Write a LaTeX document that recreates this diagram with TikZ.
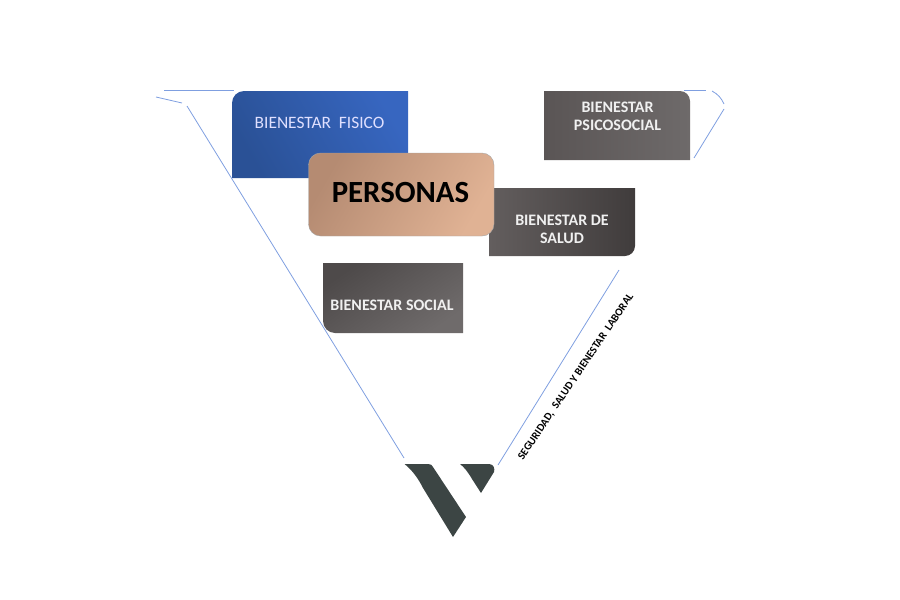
\documentclass[tikz,border=0pt]{standalone}
\usepackage{fontspec}
\setmainfont{Carlito}
\definecolor{bl}{HTML}{7F9FE0}
\definecolor{blA}{HTML}{2A5196}
\definecolor{blB}{HTML}{3766C0}
\definecolor{grA}{HTML}{4E4A4A}
\definecolor{grB}{HTML}{6F6B6B}
\definecolor{psA}{HTML}{5A5555}
\definecolor{psB}{HTML}{6E6A6A}
\definecolor{saA}{HTML}{635E5E}
\definecolor{saB}{HTML}{403C3C}
\definecolor{taA}{HTML}{B58B72}
\definecolor{taB}{HTML}{E0B294}
\definecolor{logo}{HTML}{3C4544}
\tikzset{
 guide/.style={draw=bl,line width=0.8pt},
 lbl/.style={text=white!94!black,font=\bfseries\fontsize{16}{17.5}\selectfont,align=center,inner sep=0pt},
 blueshade/.style={left color=blA,right color=blB,shading angle=120},
 psishade/.style={left color=psA,right color=psB,shading angle=90},
 salshade/.style={left color=saA,right color=saB,shading angle=90},
 socshade/.style={left color=grA,right color=grB,shading angle=35},
 tanshade/.style={left color=taA,right color=taB,shading angle=60},
}
\begin{document}
\begin{tikzpicture}[x=1pt,y=-1pt]
\useasboundingbox (0,0) rectangle (900,600);
% guide lines
\coordinate (t1) at (164,90.5); \coordinate (t2) at (234,90.5);
\coordinate (t3) at (156,97); \coordinate (t4) at (182,103);
\coordinate (t5) at (187,106); \coordinate (t6) at (404,458);
\coordinate (r1) at (498,465); \coordinate (r2) at (619,270);
\coordinate (r3) at (684,90.5); \coordinate (r4) at (706,90.5);
\coordinate (r5) at (712,91); \coordinate (r6) at (724,104);
\coordinate (r7) at (724,109); \coordinate (r8) at (694,158);
\draw[guide] (t1)--(t2);
\draw[guide] (t3)--(t4);
\draw[guide] (t5)--(t6);
\draw[guide] (r1)--(r2);
\draw[guide] (r3)--(r4);
\draw[guide] (r5) to[bend left=18] (r6);
\draw[guide] (r7)--(r8);
% boxes
\shade[blueshade] (232,178) -- (232,103) .. controls (232,96.4) and (237.4,91) .. (244,91) -- (408,91) -- (408,178) -- cycle;
\shade[psishade] (544,91) -- (680,91) .. controls (685.5,91) and (690,95.5) .. (690,101) -- (690,160) -- (544,160) -- cycle;
\shade[salshade] (489,188) -- (635,188) -- (635,246) .. controls (635,251.5) and (630.5,256) .. (625,256) -- (489,256) -- cycle;
\shade[socshade] (323,263) -- (463,263) -- (463,333) -- (335,333) .. controls (328.4,333) and (323,327.6) .. (323,321) -- cycle;
\shade[tanshade,draw=gray!70,line width=0.4pt,rounded corners=12pt] (308.5,153) rectangle (494,236);
% labels
\node[lbl,text=white!88!blue,font=\fontsize{17.4}{20}\selectfont] (fis) at (319.5,123) {BIENESTAR\ \ FISICO};
\node[lbl] (psi) at (617.5,116.5) {BIENESTAR\\PSICOSOCIAL};
\node[lbl] (sal) at (562,229.5) {BIENESTAR DE\\SALUD};
\node[lbl] (soc) at (392,305.5) {BIENESTAR SOCIAL};
\node[inner sep=0pt,font=\bfseries\fontsize{30.8}{34}\selectfont] (per) at (400.5,193) {PERSONAS};
\node[inner sep=0pt,rotate=56,font=\bfseries\fontsize{10.9}{12}\selectfont] (seg) at (576,377) {SEGURIDAD,\ \ SALUD Y BIENESTAR\ \ LABORAL};
% logo
\fill[logo] (404.5,464) -- (428,464) .. controls (431,464) and (432,465) .. (433,467) -- (466,517) -- (453,537) -- (423,488) .. controls (418,478) and (412,470) .. (404.5,464) -- cycle;
\fill[logo] (460,464) -- (489,464) .. controls (494,464) and (495,469) .. (494,472) -- (481,493) -- (472,479) .. controls (468,472) and (464,467) .. (460,464) -- cycle;
\end{tikzpicture}
\end{document}
